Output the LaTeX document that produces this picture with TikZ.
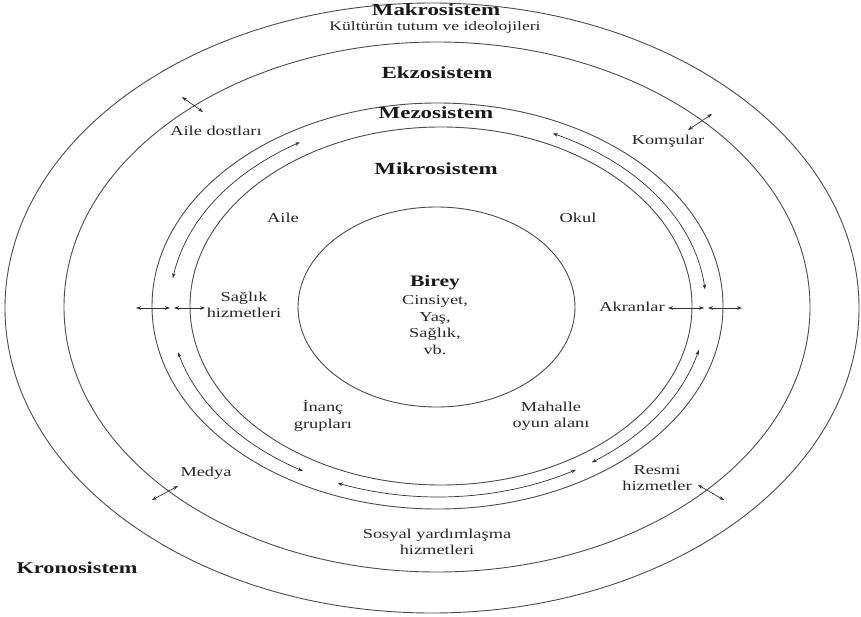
\documentclass[tikz,border=0pt]{standalone}
\usepackage{fontspec}
\setmainfont{Liberation Serif}[FakeStretch=1.35]
\usetikzlibrary{arrows.meta}
\begin{document}
\begin{tikzpicture}[x=1pt,y=-1pt,
  ring/.style={draw=black!70, line width=0.9pt},
  flow/.style={draw=black!80, line width=0.7pt, {Stealth[length=5pt,width=3.6pt]}-{Stealth[length=5pt,width=3.6pt]}},
  head/.style={font=\fontsize{17}{19}\selectfont\bfseries, text=black!90, inner sep=0pt},
  lbl/.style={font=\fontsize{13.6}{16.5}\selectfont, text=black!85, align=center, inner sep=0pt}]
\useasboundingbox (0,0) rectangle (861,617);
\fill[white] (0,0) rectangle (861,617);
% system rings
\draw[ring] (432,308) ellipse [x radius=427, y radius=305];
\draw[ring] (437,307) ellipse [x radius=373, y radius=265];
\draw[ring] (437.5,306) ellipse [x radius=285.5, y radius=203];
\draw[ring] (441,306) ellipse [x radius=251, y radius=179];
\draw[ring] (436.5,307) ellipse [x radius=138.5, y radius=100];
% mesosystem arcs
\draw[flow] plot[domain=121:171.6, samples=40, smooth] ({438+268*cos(\x)},{306-191*sin(\x)});
\draw[flow] plot[domain=64.6:5, samples=40, smooth] ({438+268*cos(\x)},{306-191*sin(\x)});
\draw[flow] plot[domain=-13.3:-55, samples=40, smooth] ({438+268*cos(\x)},{306-191*sin(\x)});
\draw[flow] plot[domain=-59:-112, samples=40, smooth] ({438+268*cos(\x)},{306-191*sin(\x)});
\draw[flow] plot[domain=-120.3:-166, samples=40, smooth] ({438+268*cos(\x)},{306-191*sin(\x)});
% arrow end points
\coordinate (la1) at (136,308); \coordinate (la2) at (170,308);
\coordinate (lb1) at (174,308); \coordinate (lb2) at (205,308);
\coordinate (ra1) at (668,308); \coordinate (ra2) at (704,308);
\coordinate (rb1) at (708,308); \coordinate (rb2) at (742,308);
\coordinate (ad1) at (182,97);  \coordinate (ad2) at (203,112);
\coordinate (ko1) at (688,130); \coordinate (ko2) at (712,114);
\coordinate (me1) at (152,500); \coordinate (me2) at (178,486);
\coordinate (rh1) at (698,485); \coordinate (rh2) at (724,500);
\draw[flow] (la1) -- (la2);
\draw[flow] (lb1) -- (lb2);
\draw[flow] (ra1) -- (ra2);
\draw[flow] (rb1) -- (rb2);
\draw[flow] (ad1) -- (ad2);
\draw[flow] (ko1) -- (ko2);
\draw[flow] (me1) -- (me2);
\draw[flow] (rh1) -- (rh2);
% headings
\node[head] (makro) at (436,10) {Makrosistem};
\node[lbl, font=\fontsize{13}{16}\selectfont] (kultur) at (435,27.5) {Kültürün tutum ve ideolojileri};
\node[head] (ekzo) at (437,73) {Ekzosistem};
\node[head] (mezo) at (436,113) {Mezosistem};
\node[head] (mikro) at (436,169) {Mikrosistem};
\node[head, font=\fontsize{16.5}{19}\selectfont\bfseries] (krono) at (77,568) {Kronosistem};
% centre
\node[head, font=\fontsize{16}{19}\selectfont\bfseries] (birey) at (435,283) {Birey};
\node[lbl, font=\fontsize{13.6}{16.8}\selectfont, anchor=north] (ozellik) at (435,295) {Cinsiyet,\\Yaş,\\Sağlık,\\vb.};
% microsystem labels
\node[lbl] (aile) at (283,218) {Aile};
\node[lbl] (okul) at (578,218) {Okul};
\node[lbl] (saglik) at (244,305) {Sağlık\\hizmetleri};
\node[lbl] (akran) at (632,307) {Akranlar};
\node[lbl] (inanc) at (323,416) {İnanç\\grupları};
\node[lbl] (mahalle) at (551,416) {Mahalle\\oyun alanı};
% exosystem labels
\node[lbl] (dost) at (216,131) {Aile dostları};
\node[lbl] (komsu) at (668,141) {Komşular};
\node[lbl] (medya) at (206,473) {Medya};
\node[lbl] (resmi) at (657,478) {Resmi\\hizmetler};
\node[lbl] (sosyal) at (437,542) {Sosyal yardımlaşma\\hizmetleri};
\end{tikzpicture}
\end{document}
